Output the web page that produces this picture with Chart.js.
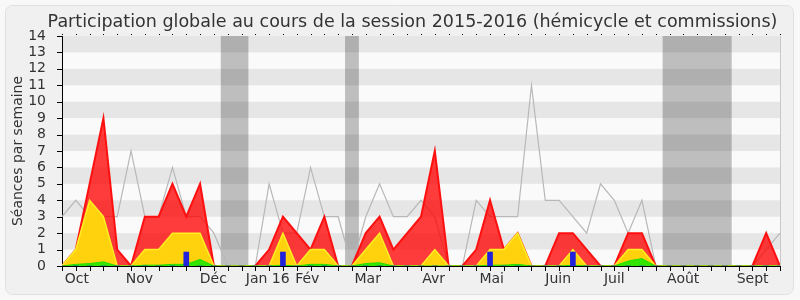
<!DOCTYPE html>
<html>
<head>
<meta charset="utf-8">
<script src="https://cdn.jsdelivr.net/npm/chart.js@4"></script>
<style>
  html, body { margin: 0; padding: 0; background: #f8f8f8; }
  canvas { display: block; }
</style>
</head>
<body>
<canvas id="chart" width="800" height="300"></canvas>
<script>
// Texts
const TITLE = 'Participation globale au cours de la session 2015-2016 (hémicycle et commissions)';
const Y_TITLE = 'Séances par semaine';

// Month labels and their position on the week axis (week 0 = start of October 2015)
const MONTH_LABELS = ['Oct', 'Nov', 'Déc', 'Jan 16', 'Fév', 'Mar', 'Avr', 'Mai', 'Juin', 'Juil', 'Août', 'Sept'];
const MONTH_POS = [1.07, 5.6, 10.96, 14.9, 17.76, 22.14, 26.92, 31.12, 35.94, 40.0, 44.99, 50.02];
const Y_TICKS = [0, 1, 2, 3, 4, 5, 6, 7, 8, 9, 10, 11, 12, 13, 14];

// Parliamentary holidays (week ranges)
const HOLIDAYS = [[11.5, 13.5], [20.5, 21.5], [43.5, 48.5]];

// Weekly series (53 weeks)
const PRESENCES = [0, 1, 5, 9, 1, 0, 3, 3, 5, 3, 5,
    0, 0, 0, 0, 1, 3, 2, 1, 3, 0,
    0, 2, 3, 1, 2, 3, 7, 0, 0, 1,
    4, 1, 2, 0, 0, 2, 2, 1, 0, 0,
    2, 2, 0, 0, 0, 0, 0, 0, 0, 0, 2, 0];
const PARTICIPATIONS = [0, 1, 4, 3, 0, 0, 1, 1, 2, 2, 2,
    0, 0, 0, 0, 0, 2, 0, 1, 1, 0,
    0, 1, 2, 0, 0, 0, 1, 0, 0, 0,
    1, 1, 2, 0, 0, 0, 1, 0, 0, 0,
    1, 1, 0, 0, 0, 0, 0, 0, 0, 0, 0, 0];
const INTERVENTIONS = [0, 0.1, 0.15, 0.25, 0, 0, 0.05, 0.05, 0.1, 0.1, 0.4,
    0, 0, 0, 0, 0, 0.05, 0, 0.1, 0.1, 0,
    0, 0.15, 0.2, 0, 0, 0, 0, 0, 0, 0,
    0.05, 0.05, 0.1, 0, 0, 0, 0.05, 0, 0, 0,
    0.3, 0.45, 0, 0, 0, 0, 0, 0, 0, 0, 0, 0];
const QUESTIONS = [0, 0, 0, 0, 0, 0, 0, 0, 0, 0.85, 0,
    0, 0, 0, 0, 0, 0.85, 0, 0, 0, 0,
    0, 0, 0, 0, 0, 0, 0, 0, 0, 0,
    0.85, 0, 0, 0, 0, 0, 0.85, 0, 0, 0,
    0, 0, 0, 0, 0, 0, 0, 0, 0, 0, 0, 0];
const MEDIANE = [3, 4, 3, 3, 3, 7, 3, 3, 6, 3, 3,
    2, 0, 0, 0, 5, 2, 2, 6, 3, 3,
    0, 3, 5, 3, 3, 4, 3, 0, 0, 4,
    3, 3, 3, 11, 4, 4, 3, 2, 5, 4,
    2, 4, 0, 0, 0, 0, 0, 0, 0, 0, 1, 2];

const WEEKS = PRESENCES.map((_, i) => i);

const FONT = 'DejaVu Sans';
const TEXT_COLOR = '#333';

const toPoints = arr => arr.map((v, i) => ({ x: WEEKS[i], y: v }));

// Frame, title, plot background, holiday bands and stripes
const backdrop = {
    id: 'backdrop',
    beforeDraw(chart) {
        const { ctx, chartArea: a, scales: { x, y } } = chart;
        ctx.save();
        ctx.fillStyle = '#f0f0f0';
        ctx.strokeStyle = '#e0e0e0';
        ctx.lineWidth = 1;
        ctx.beginPath();
        ctx.roundRect(5.5, 5.5, 788, 289, 7);
        ctx.fill();
        ctx.stroke();

        ctx.fillStyle = TEXT_COLOR;
        ctx.font = `17.5px "${FONT}"`;
        ctx.textAlign = 'center';
        ctx.textBaseline = 'alphabetic';
        ctx.fillText(TITLE, 412.5, 26.7);

        ctx.fillStyle = '#fafafa';
        ctx.fillRect(a.left, a.top, a.width, a.height);

        ctx.fillStyle = '#bebebe';
        HOLIDAYS.forEach(([from, to]) => {
            const x0 = x.getPixelForValue(from), x1 = x.getPixelForValue(to);
            ctx.fillRect(x0, a.top, x1 - x0, a.height);
        });

        ctx.fillStyle = 'rgba(0,0,0,0.08)';
        for (let v = 1; v < y.max; v += 2) {
            const y0 = y.getPixelForValue(v + 1), y1 = y.getPixelForValue(v);
            ctx.fillRect(a.left, y0, a.width, y1 - y0);
        }

        ctx.strokeStyle = '#c8c8c8';
        ctx.beginPath();
        ctx.moveTo(a.right + 0.5, a.top);
        ctx.lineTo(a.right + 0.5, a.bottom);
        ctx.stroke();
        ctx.restore();
    }
};

// Tick marks: weeks below the axis and above the plot, units left of the y axis
const tickMarks = {
    id: 'tickMarks',
    afterDraw(chart) {
        const { ctx, chartArea: a, scales: { x, y } } = chart;
        ctx.save();
        ctx.strokeStyle = '#000';
        ctx.lineWidth = 1;
        ctx.beginPath();
        WEEKS.forEach(w => {
            const px = Math.round(x.getPixelForValue(w)) + 0.5;
            ctx.moveTo(px, a.bottom);
            ctx.lineTo(px, a.bottom + 5);
            ctx.moveTo(px, a.top - 2);
            ctx.lineTo(px, a.top - 1);
        });
        Y_TICKS.forEach(v => {
            const py = Math.round(y.getPixelForValue(v)) + 0.5;
            ctx.moveTo(a.left - 5, py);
            ctx.lineTo(a.left, py);
        });
        ctx.stroke();
        ctx.restore();
    }
};

new Chart(document.getElementById('chart').getContext('2d'), {
    type: 'line',
    data: {
        datasets: [
            {
                type: 'bar',
                label: 'Questions',
                data: toPoints(QUESTIONS),
                backgroundColor: '#2222dd',
                borderWidth: 0,
                barThickness: 5
            },
            {
                label: 'Interventions',
                data: toPoints(INTERVENTIONS),
                borderColor: '#22dd00',
                backgroundColor: '#33e600',
                borderWidth: 1,
                fill: 'origin'
            },
            {
                label: 'Participations',
                data: toPoints(PARTICIPATIONS),
                borderColor: '#ffee22',
                backgroundColor: '#ffd20d',
                borderWidth: 1.5,
                fill: 'origin'
            },
            {
                label: 'Présences',
                data: toPoints(PRESENCES),
                borderColor: '#ff1010',
                backgroundColor: 'rgba(255,0,0,0.76)',
                borderWidth: 2,
                fill: 'origin'
            },
            {
                label: 'Médiane',
                data: toPoints(MEDIANE),
                borderColor: '#b8b8b8',
                borderWidth: 1.2,
                fill: false
            }
        ]
    },
    options: {
        responsive: false,
        animation: false,
        layout: { padding: { top: 34, right: 20, bottom: 0, left: 0 } },
        elements: {
            point: { radius: 0 },
            line: { tension: 0 }
        },
        plugins: {
            legend: { display: false },
            tooltip: { enabled: false }
        },
        scales: {
            x: {
                type: 'linear',
                position: 'bottom',
                min: 0,
                max: 52,
                offset: false,
                ticks: { display: false },
                grid: { display: false, offset: false },
                border: { color: '#000' },
                afterFit: s => { s.height = 5; }
            },
            xMonth: {
                type: 'linear',
                position: 'bottom',
                weight: 10,
                min: 0,
                max: 52,
                afterBuildTicks: s => { s.ticks = MONTH_POS.map(v => ({ value: v })); },
                ticks: {
                    callback: (v, i) => MONTH_LABELS[i],
                    autoSkip: false,
                    maxRotation: 0,
                    padding: 0,
                    color: TEXT_COLOR,
                    font: { family: FONT, size: 14 }
                },
                grid: { display: false, drawTicks: false },
                border: { display: false },
                afterFit: s => { s.height = 29; }
            },
            xTop: {
                type: 'linear',
                position: 'top',
                min: 0,
                max: 52,
                ticks: { display: false },
                grid: { display: false },
                border: { display: false },
                afterFit: s => { s.height = 2; }
            },
            y: {
                position: 'left',
                min: 0,
                max: 14,
                afterBuildTicks: s => { s.ticks = Y_TICKS.map(v => ({ value: v })); },
                ticks: {
                    autoSkip: false,
                    padding: 8,
                    color: TEXT_COLOR,
                    font: { family: FONT, size: 14 }
                },
                grid: { display: false },
                border: { color: '#000' },
                title: {
                    display: true,
                    text: Y_TITLE,
                    color: TEXT_COLOR,
                    font: { family: FONT, size: 14 },
                    padding: { top: 10, bottom: 0 }
                },
                afterFit: s => { s.width = 62; }
            }
        }
    },
    plugins: [backdrop, tickMarks]
});
</script>
</body>
</html>
